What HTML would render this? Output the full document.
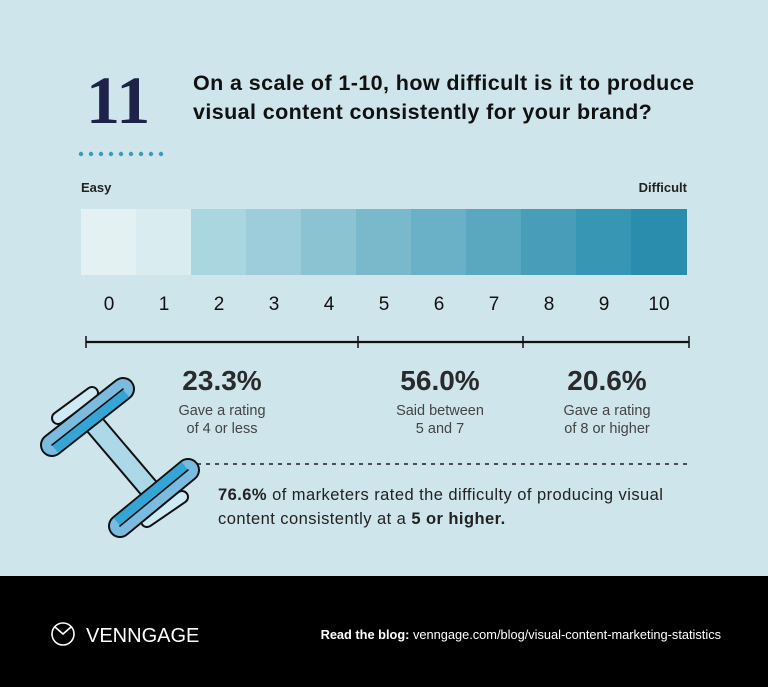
<!DOCTYPE html>
<html><head><meta charset="utf-8"><style>
html,body{margin:0;padding:0;}
body{width:768px;height:687px;overflow:hidden;background:#cde5eb;}
svg{display:block;font-family:"Liberation Sans",sans-serif;}
</style></head><body>
<svg width="768" height="687" viewBox="0 0 768 687" xmlns="http://www.w3.org/2000/svg">
<rect width="768" height="576" fill="#cde5eb"/>
<rect y="576" width="768" height="111" fill="#000"/>
<text x="86" y="123" font-family="Liberation Serif,serif" font-size="68" font-weight="bold" fill="#1c2248">11</text>
<text x="193" y="90" font-size="21.5" font-weight="bold" letter-spacing="0.4" fill="#111">On a scale of 1-10, how difficult is it to produce</text>
<text x="193" y="119" font-size="21.5" font-weight="bold" letter-spacing="0.4" fill="#111">visual content consistently for your brand?</text>
<g fill="#3a9bbb">
<circle cx="81" cy="154" r="2.2"/><circle cx="91" cy="154" r="2.2"/><circle cx="101" cy="154" r="2.2"/><circle cx="111" cy="154" r="2.2"/><circle cx="121" cy="154" r="2.2"/><circle cx="131" cy="154" r="2.2"/><circle cx="141" cy="154" r="2.2"/><circle cx="151" cy="154" r="2.2"/><circle cx="161" cy="154" r="2.2"/>
</g>
<text x="81" y="192" font-size="13" font-weight="bold" fill="#222">Easy</text>
<text x="687" y="192" font-size="13" font-weight="bold" fill="#222" text-anchor="end">Difficult</text>
<g>
<rect x="81" y="209" width="55.5" height="66" fill="#e3f1f3"/>
<rect x="136" y="209" width="55.5" height="66" fill="#d9ecf0"/>
<rect x="191" y="209" width="55.5" height="66" fill="#aad6e0"/>
<rect x="246" y="209" width="55.5" height="66" fill="#9dccda"/>
<rect x="301" y="209" width="55.5" height="66" fill="#8cc3d3"/>
<rect x="356" y="209" width="55.5" height="66" fill="#7ab8cb"/>
<rect x="411" y="209" width="55.5" height="66" fill="#6ab0c6"/>
<rect x="466" y="209" width="55.5" height="66" fill="#59a8c0"/>
<rect x="521" y="209" width="55.5" height="66" fill="#489db8"/>
<rect x="576" y="209" width="55.5" height="66" fill="#3696b3"/>
<rect x="631" y="209" width="56" height="66" fill="#2a8dad"/>
</g>
<g font-size="19" fill="#111" text-anchor="middle">
<text x="109" y="310">0</text><text x="164" y="310">1</text><text x="219" y="310">2</text><text x="274" y="310">3</text><text x="329" y="310">4</text><text x="384" y="310">5</text><text x="439" y="310">6</text><text x="494" y="310">7</text><text x="549" y="310">8</text><text x="604" y="310">9</text><text x="659" y="310">10</text>
</g>
<g stroke="#111" stroke-width="2.2">
<line x1="86" y1="342" x2="689" y2="342"/>
<line x1="86" y1="336" x2="86" y2="348" stroke-width="1.5"/>
<line x1="358" y1="336" x2="358" y2="348" stroke-width="1.5"/>
<line x1="523" y1="336" x2="523" y2="348" stroke-width="1.5"/>
<line x1="689" y1="336" x2="689" y2="348" stroke-width="1.5"/>
</g>
<g text-anchor="middle">
<text x="222" y="390" font-size="28" font-weight="bold" fill="#2a2a2a">23.3%</text>
<text x="222" y="415" font-size="14.5" fill="#444">Gave a rating</text>
<text x="222" y="433" font-size="14.5" fill="#444">of 4 or less</text>
<text x="440" y="390" font-size="28" font-weight="bold" fill="#2a2a2a">56.0%</text>
<text x="440" y="415" font-size="14.5" fill="#444">Said between</text>
<text x="440" y="433" font-size="14.5" fill="#444">5 and 7</text>
<text x="607" y="390" font-size="28" font-weight="bold" fill="#2a2a2a">20.6%</text>
<text x="607" y="415" font-size="14.5" fill="#444">Gave a rating</text>
<text x="607" y="433" font-size="14.5" fill="#444">of 8 or higher</text>
</g>
<line x1="197" y1="464" x2="690" y2="464" stroke="#222" stroke-width="1.6" stroke-dasharray="4,5"/>
<text x="218" y="500" font-size="16.5" letter-spacing="0.45" fill="#222"><tspan font-weight="bold">76.6%</tspan> of marketers rated the difficulty of producing visual</text>
<text x="218" y="524" font-size="16.5" letter-spacing="0.45" fill="#222">content consistently at a <tspan font-weight="bold">5 or higher.</tspan></text>
<!-- dumbbell -->
<g stroke="#111" stroke-width="2.2" stroke-linecap="round" stroke-linejoin="round">
<line x1="95" y1="425" x2="152" y2="492" stroke="#111" stroke-width="22"/>
<line x1="95" y1="425" x2="152" y2="492" stroke="#acd8e8" stroke-width="18"/>
<line x1="58" y1="418" x2="92" y2="393" stroke="#111" stroke-width="14"/>
<line x1="58" y1="418" x2="92" y2="393" stroke="#cdeaf5" stroke-width="10"/>
<line x1="147" y1="521" x2="182" y2="497" stroke="#111" stroke-width="14"/>
<line x1="147" y1="521" x2="182" y2="497" stroke="#cdeaf5" stroke-width="10"/>
<line x1="52" y1="445" x2="123" y2="389" stroke="#111" stroke-width="24"/>
<line x1="52" y1="445" x2="123" y2="389" stroke="#7bbbdf" stroke-width="20"/>
<line x1="55" y1="449" x2="126" y2="393" stroke="#35a5d5" stroke-width="10" stroke-linecap="butt"/>
<line x1="52" y1="445" x2="123" y2="389" stroke="#111" stroke-width="1.6"/>
<line x1="120" y1="526" x2="188" y2="470" stroke="#111" stroke-width="24"/>
<line x1="120" y1="526" x2="188" y2="470" stroke="#7bbbdf" stroke-width="20"/>
<line x1="117" y1="522" x2="185" y2="466" stroke="#35a5d5" stroke-width="10" stroke-linecap="butt"/>
<line x1="120" y1="526" x2="188" y2="470" stroke="#111" stroke-width="1.6"/>
</g>
<!-- footer -->
<circle cx="63" cy="634" r="11" fill="none" stroke="#fff" stroke-width="1.6"/>
<path d="M55 627 L63 634 L71 627" fill="none" stroke="#fff" stroke-width="1.6"/>
<text x="86" y="642" font-size="20" fill="#fff">VENNGAGE</text>
<text x="721" y="639" font-size="12.8" fill="#fff" text-anchor="end"><tspan font-weight="bold">Read the blog:</tspan> venngage.com/blog/visual-content-marketing-statistics</text>
</svg>
</body></html>
